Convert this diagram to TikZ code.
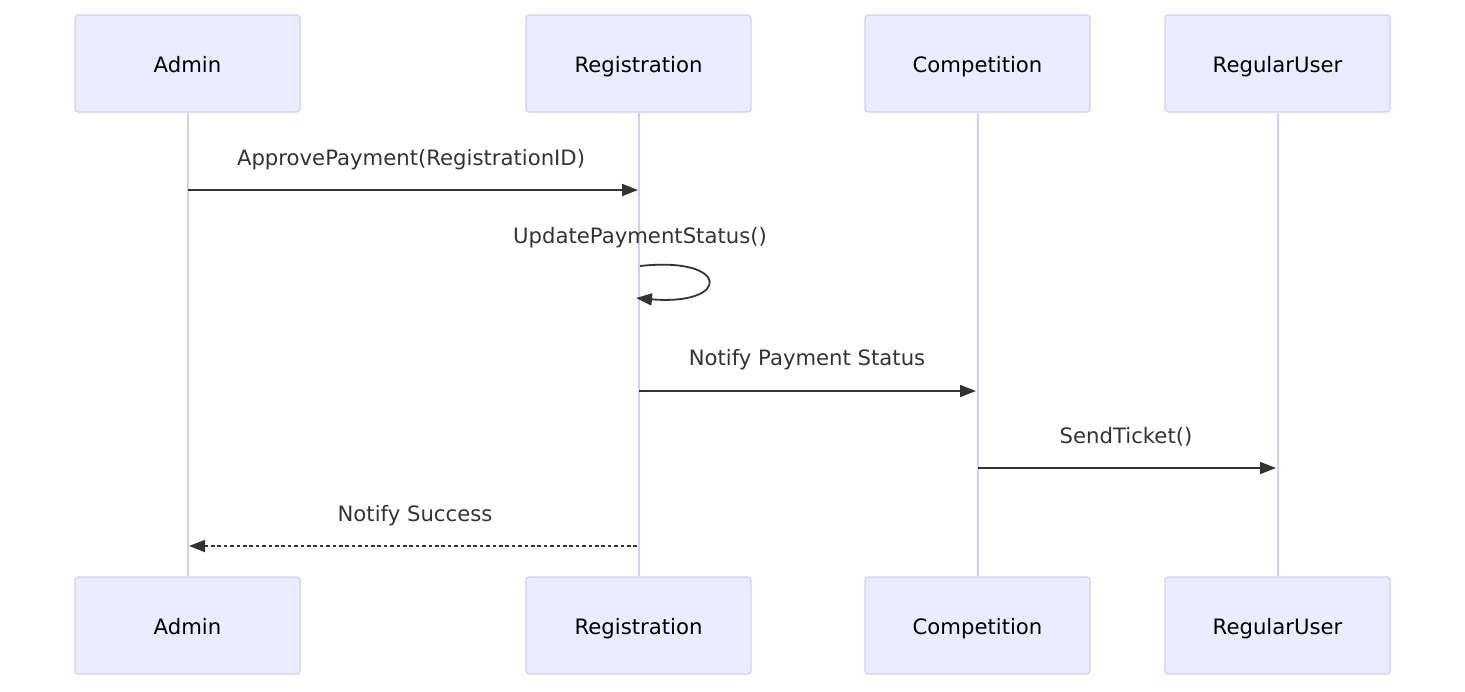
\documentclass[tikz,border=0pt]{standalone}
\usepackage{fontspec}
\setmainfont{DejaVu Sans}
\usetikzlibrary{arrows.meta,positioning}
\definecolor{actfill}{HTML}{ECECFF}
\definecolor{actline}{HTML}{D6CCF4}
\definecolor{msg}{HTML}{333333}
\begin{document}
\begin{tikzpicture}[x=0.5pt,y=-0.5pt]
      \useasboundingbox (0,0) rectangle (1465,691);
      \tikzset{A/.style = {draw=actline, fill=actfill, line width=0.6pt, rounded corners=1.5pt, minimum width=112.5pt, minimum height=48.5pt, inner sep=0pt, text height=1.05em, text depth=0.2em, text=black, font=\fontsize{10.6}{12}\selectfont}}
      \tikzset{L/.style = {draw=actline, line width=1pt}}
      \tikzset{M/.style = {draw=msg, line width=0.9pt, -{Triangle[length=8pt,width=6pt]}}}
      \tikzset{T/.style = {text=msg, inner sep=0pt, text height=0.75em, text depth=0.2em, font=\fontsize{10.6}{12}\selectfont}}
      % actors
      \node[A](adm) at (187.5,63.5) {Admin};
      \node[A](reg) at (638.5,63.5) {Registration};
      \node[A](comp) at (977.5,63.5) {Competition};
      \node[A](usr) at (1277.5,63.5) {RegularUser};
      \node[A](adm2) at (187.5,625.5) {Admin};
      \node[A](reg2) at (638.5,625.5) {Registration};
      \node[A](comp2) at (977.5,625.5) {Competition};
      \node[A](usr2) at (1277.5,625.5) {RegularUser};
      % lifelines
      \draw[L](adm) to (adm2);
      \draw[L](reg) to (reg2);
      \draw[L](comp) to (comp2);
      \draw[L](usr) to (usr2);
      % message ends
      \coordinate (m1a) at (188,190);
      \coordinate (m1b) at (638,190);
      \coordinate (s1a) at (640,266);
      \coordinate (s1b) at (636,298);
      \coordinate (m2a) at (639,391);
      \coordinate (m2b) at (976,391);
      \coordinate (m3a) at (978,468);
      \coordinate (m3b) at (1276,468);
      \coordinate (m4a) at (637,546);
      \coordinate (m4b) at (189,546);
      % messages
      \draw[M](m1a) to (m1b);
      \node[T](t1) at (411,160) {ApprovePayment(RegistrationID)};
      \draw[M](s1a) .. controls (731,256) and (731,306) .. (s1b);
      \node[T](t2) at (640,238) {UpdatePaymentStatus()};
      \draw[M](m2a) to (m2b);
      \node[T](t3) at (807,360) {Notify Payment Status};
      \draw[M](m3a) to (m3b);
      \node[T](t4) at (1126,438) {SendTicket()};
      \draw[M,dash pattern=on 1.8pt off 1.4pt](m4a) to (m4b);
      \node[T](t5) at (415,516) {Notify Success};
\end{tikzpicture}
\end{document}
